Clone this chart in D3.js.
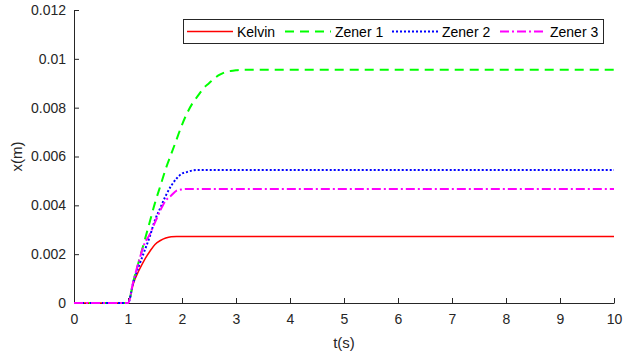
<!DOCTYPE html>
<html><head><meta charset="utf-8">
<script src="https://cdn.jsdelivr.net/npm/d3@7"></script>
<style>body{margin:0;background:#fff;} svg{display:block;font-family:"Liberation Sans",Arial,sans-serif;}</style>
</head><body>
<script>
// Data
const kelvinT = [0, 1, 1.1, 1.2, 1.3, 1.4, 1.5, 1.6, 1.7, 1.8, 1.9, 10];
const kelvinX = [0, 0, 0.0008, 0.00132, 0.00175, 0.0021, 0.0024, 0.00256, 0.00266, 0.00271, 0.00272, 0.00272];

const zener1T = [0, 1, 1.1, 1.2, 1.3, 1.4, 1.5, 1.6, 1.7, 1.8, 1.9, 2.0, 2.1, 2.2, 2.3, 2.4, 2.5, 2.6, 2.7, 2.8, 2.9, 3.0, 3.1, 10];
const zener1X = [0, 0, 0.0009, 0.0017, 0.0025, 0.0033, 0.0041, 0.0048, 0.0055, 0.0061, 0.0067, 0.0073, 0.0078, 0.0082, 0.0085, 0.0088, 0.0090, 0.0092, 0.00935, 0.00945, 0.0095, 0.00953, 0.00955, 0.00955];

const zener2T = [0, 1, 1.1, 1.2, 1.3, 1.4, 1.5, 1.6, 1.7, 1.8, 1.9, 2.0, 2.1, 2.2, 2.3, 10];
const zener2X = [0, 0, 0.00085, 0.0015, 0.0021, 0.0027, 0.0034, 0.0039, 0.0044, 0.0048, 0.0051, 0.0053, 0.00537, 0.00543, 0.00545, 0.00545];

const zener3T = [0, 1, 1.1, 1.2, 1.3, 1.4, 1.5, 1.6, 1.7, 1.8, 1.9, 2.0, 2.1, 10];
const zener3X = [0, 0, 0.0009, 0.0017, 0.0024, 0.0028, 0.0033, 0.0038, 0.0042, 0.0044, 0.0046, 0.00465, 0.00467, 0.00467];

const xTicks = [0, 1, 2, 3, 4, 5, 6, 7, 8, 9, 10];
const yTicks = [0, 0.002, 0.004, 0.006, 0.008, 0.01, 0.012];
const yTickLabels = ["0", "0.002", "0.004", "0.006", "0.008", "0.01", "0.012"];
const seriesNames = ["Kelvin", "Zener 1", "Zener 2", "Zener 3"];
const seriesColors = ["#ff0000", "#00ff00", "#0000ff", "#ff00ff"];
const seriesDash = [null, "9,6", "2,2", "9,3,2,3"];
const seriesWidth = [1.5, 2, 2, 2];

const W = 624, H = 360;
const m = {left: 74, right: 10, top: 10, bottom: 57};
const svg = d3.select("body").append("svg").attr("width", W).attr("height", H);
const x = d3.scaleLinear().domain([0, 10]).range([m.left, W - m.right]);
const y = d3.scaleLinear().domain([0, 0.012]).range([H - m.bottom, m.top]);
const axisColor = "#262626";

const xAxis = svg.append("g").attr("transform", `translate(0,${H - m.bottom})`)
  .call(d3.axisBottom(x).tickValues(xTicks).tickSizeInner(-5).tickSizeOuter(0).tickPadding(11).tickFormat(d3.format("d")));
const yAxis = svg.append("g").attr("transform", `translate(${m.left},0)`)
  .call(d3.axisLeft(y).tickValues(yTicks).tickSizeInner(-5).tickSizeOuter(0).tickPadding(8).tickFormat((d, i) => yTickLabels[i]));
[xAxis, yAxis].forEach(g => {
  g.selectAll("path,line").attr("stroke", axisColor).attr("stroke-width", 1);
  g.selectAll("text").attr("fill", axisColor).style("font-size", "14px").style("font-family", "Liberation Sans, Arial, sans-serif");
});

svg.append("text").attr("x", (m.left + W - m.right) / 2).attr("y", 348).attr("text-anchor", "middle")
  .attr("fill", axisColor).style("font-size", "15px").text("t(s)");
svg.append("text").attr("transform", `translate(22,${(m.top + H - m.bottom) / 2}) rotate(-90)`).attr("text-anchor", "middle")
  .attr("fill", axisColor).style("font-size", "15px").text("x(m)");

const series = [
  {t: kelvinT, v: kelvinX}, {t: zener1T, v: zener1X}, {t: zener2T, v: zener2X}, {t: zener3T, v: zener3X}
];
const line = d3.line().x(d => x(d[0])).y(d => y(d[1])).curve(d3.curveMonotoneX);
series.forEach((s, i) => {
  const pts = s.t.map((t, j) => [t, s.v[j]]);
  svg.append("path").datum(pts).attr("d", line).attr("fill", "none")
    .attr("stroke", seriesColors[i]).attr("stroke-width", seriesWidth[i])
    .attr("stroke-dasharray", seriesDash[i]);
});

// legend
const lg = svg.append("g");
lg.append("rect").attr("x", 183.5).attr("y", 19.5).attr("width", 420).attr("height", 24)
  .attr("fill", "#fff").attr("stroke", axisColor).attr("stroke-width", 1);
const lx = [187, 285, 392, 500];
seriesNames.forEach((n, i) => {
  lg.append("line").attr("x1", lx[i]).attr("x2", lx[i] + 46).attr("y1", 31.5).attr("y2", 31.5)
    .attr("stroke", seriesColors[i]).attr("stroke-width", seriesWidth[i]).attr("stroke-dasharray", seriesDash[i]);
  lg.append("text").attr("x", lx[i] + 50).attr("y", 36.5).attr("fill", "#000")
    .style("font-size", "14px").text(n);
});
</script>
</body></html>
